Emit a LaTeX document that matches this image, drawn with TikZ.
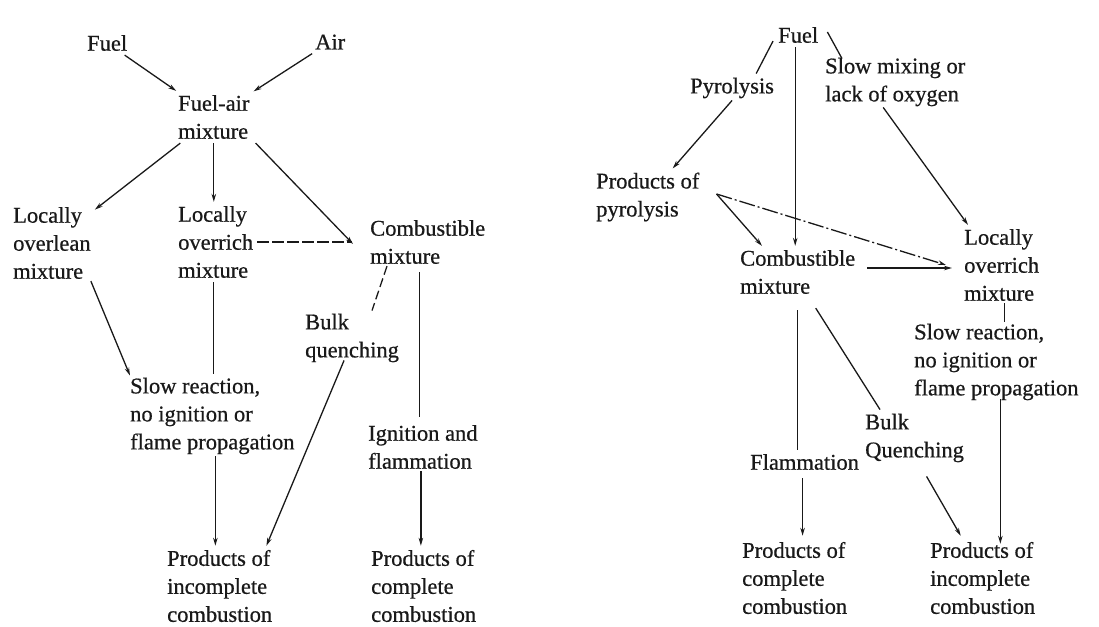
\documentclass[tikz,border=0pt]{standalone}
\usepackage{fontspec}
\setmainfont{Liberation Serif}
\newfontfamily\scanfont[FakeBold=0.6]{Liberation Serif}
\usetikzlibrary{arrows.meta,calc}
\begin{document}
\begin{tikzpicture}[x=1pt,y=-1pt,
  txt/.style={anchor=west, align=left, inner sep=4pt, text=black!90, font=\scanfont\fontsize{22.5}{28}\selectfont},
  ln/.style={line width=1.3pt, black!90},
  arr/.style={ln, -{Stealth[length=8pt,width=4.5pt]}},
  dsh/.style={ln, dash pattern=on 12pt off 3pt},
  dshdot/.style={ln, dash pattern=on 16pt off 3pt on 2pt off 3pt}]
\useasboundingbox (0,0) rectangle (1099,626);
% ---------- left diagram ----------
\node[txt] (fuel) at (83,43) {Fuel};
\node[txt] (air) at (311,42) {Air};
\node[txt] (fuelair) at (174,117) {Fuel-air\\mixture};
\node[txt] (overlean) at (9,243) {Locally\\overlean\\mixture};
\node[txt] (overrich) at (174,242) {Locally\\overrich\\mixture};
\node[txt] (comb) at (366,242) {Combustible\\mixture};
\node[txt] (slow) at (126,416) {Slow reaction,\\no ignition or\\flame propagation};
\node[txt] (bulk) at (301,338) {Bulk\\quenching};
\node[txt] (ign) at (364,447) {Ignition and\\flammation};
\node[txt] (inc) at (163,586) {Products of\\incomplete\\combustion};
\node[txt] (com) at (367,586) {Products of\\complete\\combustion};

\draw[arr] (fuel) -- (fuelair);
\draw[arr] (air) -- (fuelair);
\draw[arr] (fuelair) -- (overlean);
\draw[arr] (fuelair.south) -- (fuelair.south |- overrich.north);
\draw[arr] ([xshift=2pt]fuelair.south east) -- ([xshift=-13pt,yshift=-2pt]comb.west);
\draw[dsh] (overrich.east) -- ([xshift=-14pt]comb.west |- overrich.east);
\draw[arr] ([xshift=-4pt,yshift=2pt]overlean.south east) -- ([xshift=4pt,yshift=-2pt]slow.north west);
\draw[ln] ([xshift=-2pt]overrich.south) -- ([xshift=-2pt]overrich.south |- slow.north);
\draw[ln, dash pattern=on 9pt off 4pt] ([xshift=21pt,yshift=2pt]comb.south west) -- ([xshift=71pt,yshift=-1pt]bulk.north west);
\draw[ln] ([xshift=-8pt,yshift=-4pt]comb.south) -- ([xshift=-8pt,yshift=4pt]comb.south |- ign.north);
\draw[arr] ([xshift=-8pt,yshift=6pt]bulk.south) -- ([xshift=-10pt]inc.north east);
\draw[arr] ([xshift=-2pt,yshift=2pt]ign.south) -- ([xshift=-2pt]ign.south |- com.north);
\draw[arr] ([xshift=3pt,yshift=2pt]slow.south) -- ([xshift=3pt]slow.south |- inc.north);

% ---------- right diagram ----------
\node[txt] (fuel2) at (774,35) {Fuel};
\node[txt] (pyro) at (686,88) {Pyrolysis};
\node[txt] (slowmix) at (821,82) {Slow mixing or\\lack of oxygen};
\node[txt] (prodpyro) at (592,197) {Products of\\pyrolysis};
\node[txt] (comb2) at (736,272) {Combustible\\mixture};
\node[txt] (overrich2) at (960,265) {Locally\\overrich\\mixture};
\node[txt] (slow2) at (910,362) {Slow reaction,\\no ignition or\\flame propagation};
\node[txt] (flam) at (746,462) {Flammation};
\node[txt] (bulk2) at (861,438) {Bulk\\Quenching};
\node[txt] (com2) at (738,578) {Products of\\complete\\combustion};
\node[txt] (inc2) at (926,578) {Products of\\incomplete\\combustion};
\coordinate (pp) at ([xshift=13pt,yshift=3pt]prodpyro.east);

\draw[ln] ([xshift=-1pt,yshift=6pt]fuel2.south west) -- ([xshift=-22pt]pyro.north east);
\draw[arr] ([yshift=2pt]pyro.south) -- (prodpyro);
\draw[ln] ([xshift=5pt,yshift=3pt]fuel2.east) -- ([xshift=21pt,yshift=-5pt]slowmix.north west);
\draw[arr] ([xshift=-12pt,yshift=3pt]slowmix.south) -- ([xshift=8pt]overrich2.north west);
\draw[arr] ([xshift=-3pt]fuel2.south) -- ([xshift=-3pt]fuel2.south |- comb2.north);
\draw[arr] (pp) -- ([xshift=26pt]comb2.north west);
\draw[dshdot, -{Stealth[length=8pt,width=4.5pt]}] (pp) -- ([xshift=-14pt]overrich2.west);
\draw[arr] ([xshift=8pt,yshift=4pt]comb2.east) -- ([xshift=-8pt,yshift=4pt]comb2.east -| overrich2.west);
\draw[ln] ([xshift=3pt,yshift=2pt]overrich2.south) -- ([xshift=3pt,yshift=-2pt]overrich2.south |- slow2.north);
\draw[arr] ([xshift=4pt,yshift=5pt]slow2.south) -- ([xshift=4pt,yshift=-6pt]slow2.south |- inc2.north);
\draw[ln] ([yshift=-12pt]comb2.south) -- (comb2.south |- flam.north);
\draw[ln] ([xshift=18pt,yshift=-10pt]comb2.south) -- ([xshift=19pt]bulk2.north west);
\draw[arr] ([xshift=-2pt,yshift=-4pt]flam.south) -- ([xshift=-2pt,yshift=2pt]flam.south |- com2.north);
\draw[arr] ([xshift=12pt,yshift=-10pt]bulk2.south) -- ([xshift=-22pt,yshift=2pt]inc2.north);
\end{tikzpicture}
\end{document}
